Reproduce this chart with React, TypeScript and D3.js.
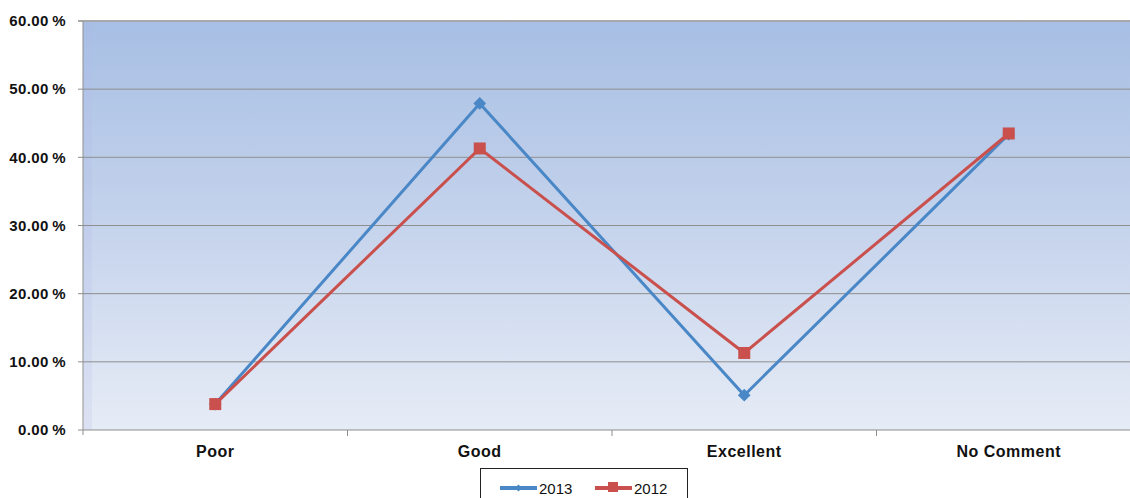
import React from "react";
import * as d3 from "d3";

const categories = ["Poor", "Good", "Excellent", "No Comment"];
const series2013 = [3.8, 47.9, 5.1, 43.4];
const series2012 = [3.8, 41.3, 11.3, 43.5];
const yTicks = [0, 10, 20, 30, 40, 50, 60];

const W = 1130;
const H = 498;
const left = 83;
const top = 21;
const bottom = 430;
const catW = 264.5;
const right = left + catW * categories.length;

export default function App() {
  const x = d3
    .scaleBand<string>()
    .domain(categories)
    .range([left, right])
    .paddingInner(0)
    .paddingOuter(0);
  const y = d3.scaleLinear().domain([0, 60]).range([bottom, top]);
  const cx = (c: string) => (x(c) as number) + x.bandwidth() / 2;
  const line = d3
    .line<number>()
    .x((_, i) => cx(categories[i]))
    .y((d) => y(d));

  const blue = "#4a87c6";
  const red = "#c9504c";

  return (
    <div style={{ position: "absolute", left: 0, top: 0, width: W, height: H, overflow: "hidden", background: "#fff" }}>
      <svg width={W} height={H} style={{ display: "block" }}>
        <defs>
          <linearGradient id="bg" x1="0" y1="0" x2="0" y2="1">
            <stop offset="0" stopColor="#a7bfe4" />
            <stop offset="0.5" stopColor="#c5d3ec" />
            <stop offset="1" stopColor="#e6ecf6" />
          </linearGradient>
        </defs>
        <rect x={left} y={top} width={right - left} height={bottom - top} fill="url(#bg)" />
        <rect x={left + 1} y={top} width={8} height={bottom - top} fill="#b4b8ea" opacity={0.18} />
        {yTicks.map((t) => (
          <g key={t}>
            <line x1={left - 5} x2={right} y1={y(t)} y2={y(t)} stroke={t === 60 ? "#a8a8a8" : "#8e8e8e"} strokeWidth={t === 60 ? 2 : 1} />
            <text
              x={66}
              y={y(t)}
              dy="0.35em"
              textAnchor="end"
              fontFamily="Liberation Sans, Arial, sans-serif"
              fontWeight="bold"
              fontSize={15}
              letterSpacing={0.4}
              fill="#111"
            >
              {t.toFixed(2) + "\u2009%"}
            </text>
          </g>
        ))}
        <line x1={left} x2={left} y1={top} y2={bottom + 5} stroke="#8e8e8e" strokeWidth={1} />
        {categories.map((c, i) => (
          <g key={c}>
            <line x1={(x(c) as number) + catW} x2={(x(c) as number) + catW} y1={bottom} y2={bottom + 6} stroke="#8e8e8e" />
            <text
              x={cx(c)}
              y={457}
              textAnchor="middle"
              fontFamily="Liberation Sans, Arial, sans-serif"
              fontWeight="bold"
              fontSize={16}
              letterSpacing={0.5}
              fill="#111"
            >
              {c}
            </text>
          </g>
        ))}
        <path d={line(series2013) as string} fill="none" stroke={blue} strokeWidth={3} />
        <path d={line(series2012) as string} fill="none" stroke={red} strokeWidth={3} />
        {series2013.map((v, i) => (
          <rect
            key={"b" + i}
            x={cx(categories[i]) - 4.5}
            y={y(v) - 4.5}
            width={9}
            height={9}
            fill={blue}
            transform={`rotate(45 ${cx(categories[i])} ${y(v)})`}
          />
        ))}
        {series2012.map((v, i) => (
          <rect key={"r" + i} x={cx(categories[i]) - 6} y={y(v) - 6} width={12} height={12} fill={red} />
        ))}
        <g>
          <rect x={480.5} y={468.5} width={207} height={40} fill="#fff" stroke="#222" strokeWidth={1} />
          <line x1={500} x2={537} y1={488} y2={488} stroke={blue} strokeWidth={4} />
          <rect x={516} y={485.5} width={5} height={5} fill={blue} transform="rotate(45 518.5 488)" />
          <text x={539} y={494} fontFamily="Liberation Sans, Arial, sans-serif" fontSize={15} fill="#111">2013</text>
          <line x1={595} x2={632} y1={488} y2={488} stroke={red} strokeWidth={4} />
          <rect x={608} y={482} width={10} height={10} fill={red} />
          <text x={634} y={494} fontFamily="Liberation Sans, Arial, sans-serif" fontSize={15} fill="#111">2012</text>
        </g>
      </svg>
    </div>
  );
}
